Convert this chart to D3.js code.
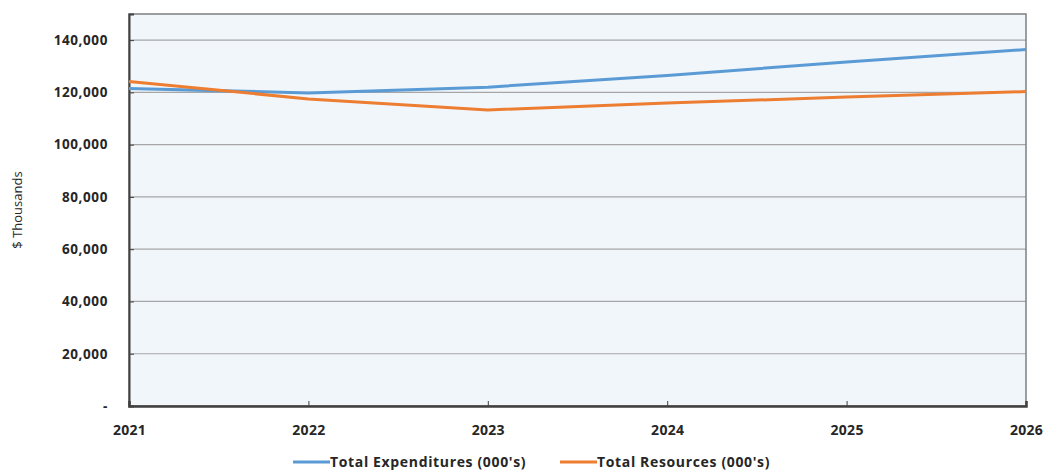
<!DOCTYPE html>
<html><head><meta charset="utf-8">
<script src="https://cdn.jsdelivr.net/npm/d3@7"></script>
<style>body{margin:0;background:#fff;} text{font-family:"Open Sans",Lato,sans-serif;}</style>
</head><body>
<svg id="c" width="1047" height="474"></svg>
<script>
const years = ["2021","2022","2023","2024","2025","2026"];
const expenditures = [121500, 119800, 122000, 126500, 131600, 136400];
const resources = [124200, 117500, 113300, 115900, 118200, 120300];
const yTicks = [0, 20000, 40000, 60000, 80000, 100000, 120000, 140000];
const seriesNames = ["Total Expenditures (000's)", "Total Resources (000's)"];
const seriesColors = ["#5b9bd5", "#ed7d31"];

const svg = d3.select("#c");
const L = 129, R = 1026, T = 14, B = 406;
const x = d3.scalePoint().domain(years).range([L, R]);
const y = d3.scaleLinear().domain([0, 150000]).range([B, T]);

svg.append("rect").attr("x", L).attr("y", T).attr("width", R - L).attr("height", B - T)
  .attr("fill", "#f1f6fb");

// gridlines
svg.append("g").selectAll("line").data(yTicks.filter(d => d > 0)).join("line")
  .attr("x1", L).attr("x2", R).attr("y1", d => y(d)).attr("y2", d => y(d))
  .attr("stroke", "#a6a6a6").attr("stroke-width", 1.2);

// border
svg.append("rect").attr("x", L).attr("y", T).attr("width", R - L).attr("height", B - T)
  .attr("fill", "none").attr("stroke", "#7f7f7f").attr("stroke-width", 1.5);

// y axis
const yAxis = d3.axisLeft(y).tickValues(yTicks).tickSize(-5).tickPadding(21)
  .tickFormat(d => d === 0 ? "-" : d3.format(",")(d));
const gy = svg.append("g").attr("transform", `translate(${L},0)`).call(yAxis);
gy.select(".domain").attr("stroke", "#404040").attr("stroke-width", 2);
gy.selectAll(".tick line").attr("stroke", "#404040");
gy.selectAll(".tick text").attr("font-size", 13.5).attr("font-weight", "bold")
  .attr("letter-spacing", 0.6).attr("fill", "#262626");

// x axis
const xAxis = d3.axisBottom(x).tickSize(-5).tickPadding(19);
const gx = svg.append("g").attr("transform", `translate(0,${B})`).call(xAxis);
gx.select(".domain").attr("stroke", "#404040").attr("stroke-width", 2.5);
gx.selectAll(".tick line").attr("stroke", "#404040");
gx.selectAll(".tick text").attr("font-size", 14).attr("font-weight", "bold")
  .attr("letter-spacing", 0.3).attr("fill", "#262626");

// y title
svg.append("text").attr("transform", `translate(22,${(T + B) / 2}) rotate(-90)`)
  .attr("text-anchor", "middle").attr("font-size", 13).attr("fill", "#262626").text("$ Thousands");

// lines
const line = d3.line().x((d, i) => x(years[i])).y(d => y(d));
[expenditures, resources].forEach((s, k) => {
  svg.append("path").attr("d", line(s)).attr("fill", "none")
    .attr("stroke", seriesColors[k]).attr("stroke-width", 3).attr("stroke-linejoin", "round");
});

// legend
const legX = [293, 560];
seriesNames.forEach((n, k) => {
  const g = svg.append("g").attr("transform", `translate(${legX[k]},462)`);
  g.append("line").attr("x1", 0).attr("x2", 37).attr("y1", 0).attr("y2", 0)
    .attr("stroke", seriesColors[k]).attr("stroke-width", 3);
  g.append("text").attr("x", 37).attr("y", 5).attr("font-size", 14).attr("font-weight", "bold")
    .attr("letter-spacing", 0.65).attr("fill", "#262626").text(n);
});
</script>
</body></html>
